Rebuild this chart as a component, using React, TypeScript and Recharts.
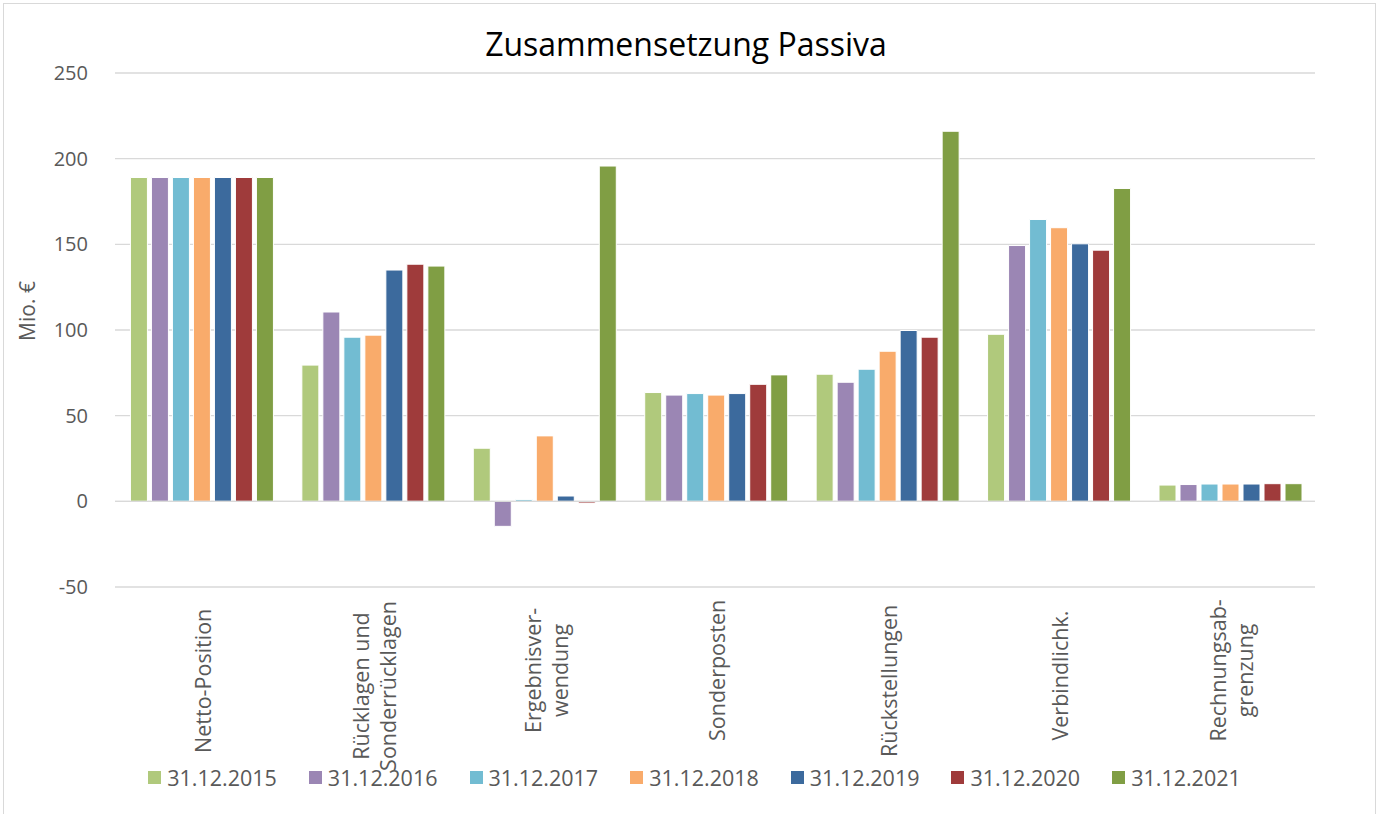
import React from 'react';
import {
  Bar,
  BarChart,
  CartesianGrid,
  Legend,
  ReferenceLine,
  XAxis,
  YAxis,
} from 'recharts';

const categories = [
  'Netto-Position',
  'Rücklagen und\nSonderrücklagen',
  'Ergebnisver-\nwendung',
  'Sonderposten',
  'Rückstellungen',
  'Verbindlichk.',
  'Rechnungsab-\ngrenzung',
];

const years = [
  '31.12.2015',
  '31.12.2016',
  '31.12.2017',
  '31.12.2018',
  '31.12.2019',
  '31.12.2020',
  '31.12.2021',
];

const v2015 = [189, 79.5, 31, 63.5, 74.2, 97.5, 9.5];
const v2016 = [189, 110.5, -14.6, 62, 69.5, 149.3, 9.8];
const v2017 = [189, 95.8, 1, 62.9, 77.1, 164.5, 10.1];
const v2018 = [189, 97, 38.2, 62, 87.6, 159.7, 10.1];
const v2019 = [189, 135, 3.1, 62.9, 99.7, 150.3, 10.1];
const v2020 = [189, 138.4, -1, 68.3, 95.8, 146.6, 10.3];
const v2021 = [189, 137.3, 195.7, 73.8, 216, 182.6, 10.3];

const yTicks = [-50, 0, 50, 100, 150, 200, 250];

const colors = ['#b0c97c', '#9b86b4', '#72bcd2', '#f9ab6b', '#3c6a9d', '#9f3b3b', '#809e44'];

const seriesValues = [v2015, v2016, v2017, v2018, v2019, v2020, v2021];

const data = categories.map((name, i) => {
  const row: Record<string, string | number> = { name };
  years.forEach((y, s) => {
    row[y] = seriesValues[s][i];
  });
  return row;
});

const font = '"Open Sans", sans-serif';
const grey = '#595959';

const CategoryTick = (props: any) => {
  const { x, y, payload } = props;
  const lines: string[] = String(payload.value).split('\n');
  const longest = Math.max(...lines.map((l) => l.length));
  const cy = y + 13 + (longest * 10.4) / 2;
  return (
    <g>
      {lines.map((line, i) => {
        const cx = x + 2 + (i - (lines.length - 1) / 2) * 27;
        return (
          <text
            key={i}
            x={cx}
            y={cy}
            transform={`rotate(-90 ${cx} ${cy})`}
            textAnchor='middle'
            dominantBaseline='central'
            fill={grey}
            fontSize={21.5}
            fontFamily={font}
          >
            {line}
          </text>
        );
      })}
    </g>
  );
};

const LegendRow = () => (
  <div
    style={{
      display: 'flex',
      justifyContent: 'center',
      lineHeight: '27px',
      fontFamily: font,
      fontSize: 21.5,
      color: grey,
    }}
  >
    {years.map((y, i) => (
      <div key={y} style={{ display: 'flex', alignItems: 'center', marginRight: i < years.length - 1 ? 32 : 0 }}>
        <span style={{ width: 13, height: 13, background: colors[i], marginRight: 6, display: 'inline-block' }} />
        {y}
      </div>
    ))}
  </div>
);

const App = (): JSX.Element => {
  return (
    <div style={{ position: 'absolute', left: 0, top: 0, width: 1381, height: 814, background: '#fff' }}>
      <div
        style={{
          position: 'absolute',
          left: 3,
          top: 3,
          width: 1373,
          height: 820,
          border: '1.5px solid #d9d9d9',
          boxSizing: 'border-box',
        }}
      />
      <div
        style={{
          position: 'absolute',
          left: 0,
          width: 1372,
          top: 22,
          textAlign: 'center',
          fontFamily: font,
          fontSize: 32,
          lineHeight: '44px',
          color: '#000',
        }}
      >
        Zusammensetzung Passiva
      </div>
      <div style={{ position: 'absolute', left: 0, top: 0 }}>
        <BarChart
          width={1381}
          height={814}
          data={data}
          margin={{ top: 73, right: 66, left: 0, bottom: 0 }}
          barCategoryGap='9%'
          barGap={4}
        >
          <CartesianGrid vertical={false} stroke='#d9d9d9' strokeWidth={1.3} />
          <XAxis
            dataKey='name'
            height={200}
            axisLine={false}
            tickLine={false}
            interval={0}
            tick={<CategoryTick />}
          />
          <YAxis
            width={115}
            domain={[-50, 250]}
            ticks={yTicks}
            axisLine={false}
            tickLine={false}
            tickSize={0}
            tickMargin={27}
            tick={{ fill: grey, fontSize: 20, fontFamily: font }}
            label={{
              value: 'Mio. €',
              angle: -90,
              position: 'center',
              dx: -30,
              dy: -19,
              fill: grey,
              fontSize: 21,
              fontFamily: font,
            }}
          />
          <ReferenceLine y={0} stroke='#d9d9d9' strokeWidth={1.3} />
          <Legend
            verticalAlign='bottom'
            content={<LegendRow />}
            wrapperStyle={{ bottom: 23, left: 4, width: 1381 }}
          />
          {years.map((y, i) => (
            <Bar
              key={y}
              dataKey={y}
              fill={colors[i]}
              stroke='#ffffff'
              strokeWidth={1}
              isAnimationActive={false}
            />
          ))}
        </BarChart>
      </div>
    </div>
  );
};

export default App;
